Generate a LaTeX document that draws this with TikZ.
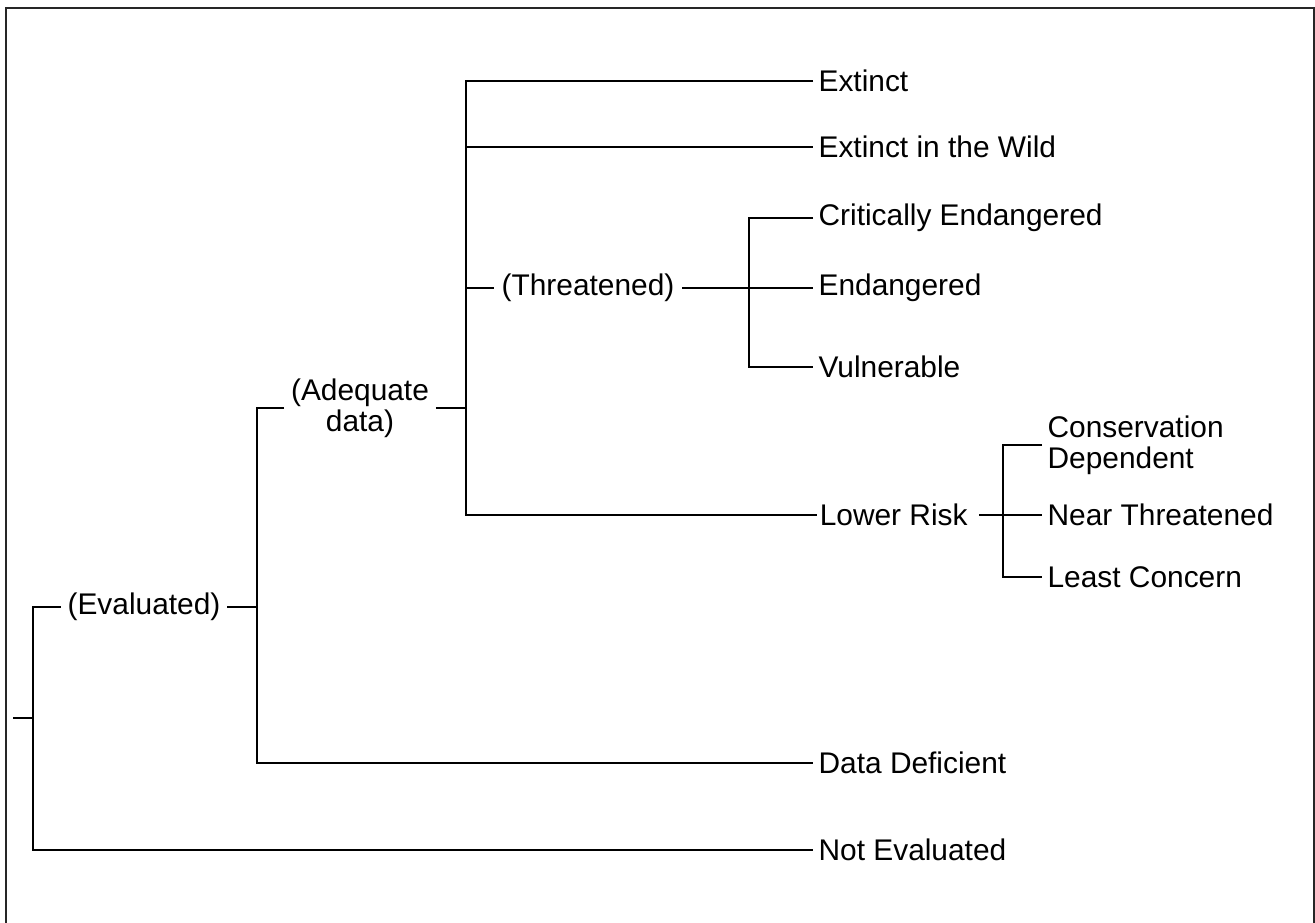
\documentclass[tikz,border=0pt]{standalone}
\usepackage{fontspec}
\setmainfont{Liberation Sans}
\usetikzlibrary{positioning}

\newcommand{\catfont}{\fontsize{8.5}{8.7}\selectfont}

\begin{document}
\begin{tikzpicture}[%
		x=0.1mm, y=-0.1mm,
		leaf/.style={
			rectangle,
			anchor=west,
			inner xsep=1.4pt,
			inner ysep=0pt,
			align=left,
			font=\catfont
		},
		group/.style={
			rectangle,
			inner xsep=1.7pt,
			inner ysep=0pt,
			align=center,
			font=\catfont
		},
		branch/.style={
			line width=0.55pt,
			black
		},
		frame/.style={
			line width=0.85pt,
			black!85
		}]

		\useasboundingbox (0,0) rectangle (1315,923);

		% FRAME

		\draw[frame] (6,940) |- (1314,8) -- (1314,940);

		% GROUPS

		\coordinate (root) at (13,718);
		\coordinate (rootj) at (33,718);
		\node (eval) [group] at (144,607) {(Evaluated)};
		\coordinate (evalj) at (257,607);
		\node (adeq) [group, inner xsep=1.8pt] at (360,408) {(Adequate\\data)};
		\coordinate (adeqj) at (466,408);
		\node (thr) [group, inner xsep=2.1pt] at (588,288) {(Threatened)};
		\coordinate (thrj) at (749,288);
		\coordinate (lrj) at (1003,515);

		% CATEGORIES

		\node (ex) [leaf] at (813,81) {Extinct};
		\node (ew) [leaf] at (813,147) {Extinct in the Wild};
		\node (ce) [leaf] at (813,218) {Critically Endangered};
		\node (en) [leaf] at (813,288) {Endangered};
		\node (vu) [leaf] at (813,367) {Vulnerable};
		\node (lr) [leaf, inner xsep=0.6pt] at (817,515) {Lower Risk};
		\node (cd) [leaf] at (1042,445) {Conservation\\Dependent};
		\node (nt) [leaf] at (1042,515) {Near Threatened};
		\node (lc) [leaf] at (1042,577) {Least Concern};
		\node (dd) [leaf] at (813,763) {Data Deficient};
		\node (ne) [leaf] at (813,850) {Not Evaluated};

		% TREE LINES

		\draw[branch] (root) -- (rootj);
		\draw[branch] (eval.west) -| (rootj) |- (ne.west);
		\draw[branch] (eval.east) -- (evalj);
		\draw[branch] (adeq.west) -| (evalj) |- (dd.west);
		\draw[branch] (adeq.east) -- (adeqj);
		\draw[branch] (ex.west) -| (adeqj) |- (lr.west);
		\draw[branch] (adeqj |- ew.west) -- (ew.west);
		\draw[branch] (adeqj |- thr) -- (thr.west);
		\draw[branch] (thr.east) -- (en.west);
		\draw[branch] (ce.west) -| (thrj) |- (vu.west);
		\draw[branch, shorten <=2.5pt] (lr.east) -- (nt.west);
		\draw[branch] (cd.west) -| (lrj) |- (lc.west);
\end{tikzpicture}
\end{document}
